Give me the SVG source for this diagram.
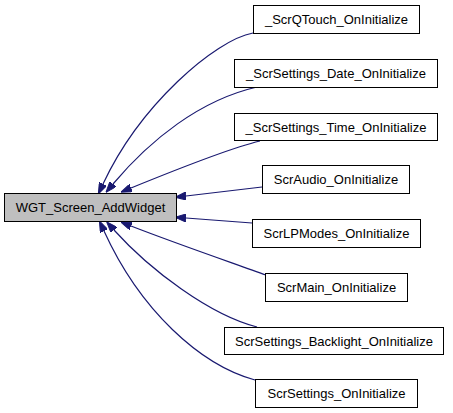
<svg xmlns="http://www.w3.org/2000/svg" width="453" height="413" viewBox="0 0 453 413">
<style>
.box{fill:#ffffff;stroke:#000000;stroke-width:1}
.main{fill:#bfbfbf;stroke:#000000;stroke-width:1}
.lbl{font-family:"Liberation Sans",Arial,sans-serif;font-size:13px;fill:#000000;text-anchor:middle}
.edge{fill:none;stroke:#191970;stroke-width:1.2;marker-end:url(#ah)}
</style>
<defs>
<marker id="ah" markerUnits="userSpaceOnUse" markerWidth="11" markerHeight="8" refX="0" refY="4" orient="auto">
<path d="M0,0 L11,4 L0,8 z" fill="#191970" stroke="#191970" stroke-width="1"/>
</marker>
</defs>
<rect width="453" height="413" fill="#ffffff"/>
<g id="edges">
<path class="edge" d="M253,33 C215,40 140,105 103,184"/>
<path class="edge" d="M257,87 C200,100 150,140 113,184"/>
<path class="edge" d="M260,141 C230,148 180,168 131,188"/>
<path class="edge" d="M262,187 L186,196"/>
<path class="edge" d="M252,223 L186,218"/>
<path class="edge" d="M266,275 C230,262 180,245 131,226"/>
<path class="edge" d="M257,327 C210,315 150,270 114,230"/>
<path class="edge" d="M255,380 C200,365 140,310 104,231"/>
</g>
<g id="n_main">
<rect class="main" x="4.5" y="193.5" width="172" height="28"/>
<text class="lbl" x="90.5" y="212">WGT_Screen_AddWidget</text>
</g>
<g id="n_qtouch">
<rect class="box" x="253.5" y="5.5" width="166" height="28"/>
<text class="lbl" x="336.5" y="24">_ScrQTouch_OnInitialize</text>
</g>
<g id="n_date">
<rect class="box" x="234.5" y="59.5" width="203" height="28"/>
<text class="lbl" x="336" y="78">_ScrSettings_Date_OnInitialize</text>
</g>
<g id="n_time">
<rect class="box" x="234.5" y="113.5" width="203" height="27"/>
<text class="lbl" x="336" y="131.5">_ScrSettings_Time_OnInitialize</text>
</g>
<g id="n_audio">
<rect class="box" x="262.5" y="165.5" width="147" height="28"/>
<text class="lbl" x="336" y="184">ScrAudio_OnInitialize</text>
</g>
<g id="n_lpmodes">
<rect class="box" x="252.5" y="219.5" width="168" height="28"/>
<text class="lbl" x="336.5" y="238">ScrLPModes_OnInitialize</text>
</g>
<g id="n_main_init">
<rect class="box" x="265.5" y="273.5" width="142" height="28"/>
<text class="lbl" x="336.5" y="292">ScrMain_OnInitialize</text>
</g>
<g id="n_backlight">
<rect class="box" x="224.5" y="327.5" width="219" height="27"/>
<text class="lbl" x="334" y="345.5">ScrSettings_Backlight_OnInitialize</text>
</g>
<g id="n_settings">
<rect class="box" x="255.5" y="379.5" width="162" height="28"/>
<text class="lbl" x="336.5" y="398">ScrSettings_OnInitialize</text>
</g>
</svg>
